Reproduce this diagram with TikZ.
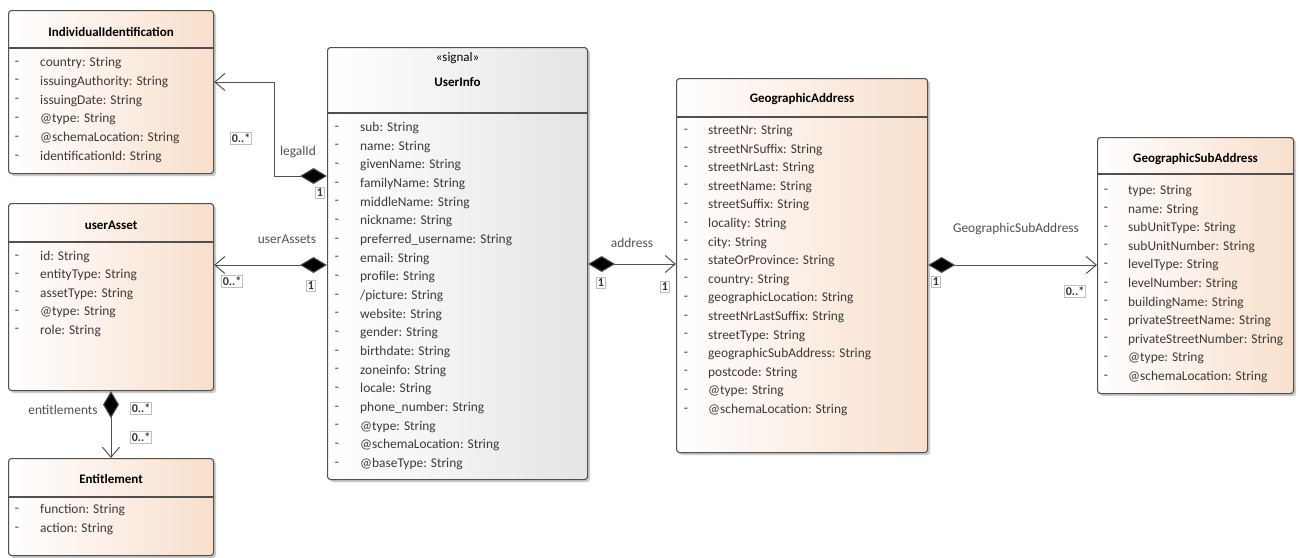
\documentclass[tikz,border=0pt]{standalone}
\usepackage{fontspec}
\setmainfont{Carlito}
\usetikzlibrary{arrows.meta,shadows}
\definecolor{peach}{HTML}{F8DFCC}
\definecolor{sig}{HTML}{E4E4E4}
\definecolor{boxline}{HTML}{505050}
\definecolor{attrc}{HTML}{3A3A3A}
\definecolor{labc}{HTML}{505050}
\tikzset{
  umlbox/.style={draw=boxline, line width=1.1pt, rounded corners=3pt,
    left color=white, right color=peach, anchor=north west, inner sep=0pt,
    drop shadow={shadow xshift=2.5pt, shadow yshift=-2.5pt, fill=black!35, opacity=.6}},
  sigbox/.style={umlbox, right color=sig},
  sepline/.style={draw=boxline, line width=1.1pt},
  ctitle/.style={font=\bfseries\fontsize{13}{15}\selectfont, text=black, inner sep=0pt},
  stereo/.style={font=\fontsize{13}{15}\selectfont, text=black, inner sep=0pt},
  attr/.style={font=\fontsize{13.4}{15}\selectfont, text=attrc, anchor=west, inner sep=0pt},
  dashc/.style={font=\fontsize{13.4}{15}\selectfont, text=attrc, inner sep=0pt},
  conn/.style={draw=boxline, line width=1pt},
  comp/.style={conn, {Diamond[length=27pt,width=16pt,fill=black]}-{Straight Barb[length=10pt,width=17pt,line width=1pt]}},
  rolelab/.style={font=\fontsize{13.4}{15}\selectfont, text=labc, inner sep=0pt},
  mult/.style={draw=black!25, fill=white, line width=0.6pt, inner sep=1.5pt, font=\bfseries\fontsize{12}{13}\selectfont, text=black!80},
}
\begin{document}
\begin{tikzpicture}[x=1pt,y=-1pt]
\useasboundingbox (0,0) rectangle (1301,557);

% IndividualIdentification
\node[umlbox, minimum width=205pt, minimum height=163pt] (ii) at (8,10) {};
\draw[sepline] (ii.west |- 0,48) -- (ii.east |- 0,48);
\node[ctitle] (iit) at (ii.center |- 0,32) {IndividualIdentification};
\foreach \t [count=\i from 0] in {country: String, issuingAuthority: String, issuingDate: String, @type: String, @schemaLocation: String, identificationId: String}{
  \node[dashc] (iid\i) at (17,{63+18.8*\i}) {-};
  \node[attr] (iia\i) at (40,{63+18.8*\i}) {\t};
}

% userAsset
\node[umlbox, minimum width=205pt, minimum height=187pt] (ua) at (8,203) {};
\draw[sepline] (ua.west |- 0,242) -- (ua.east |- 0,242);
\node[ctitle] (uat) at (ua.center |- 0,225) {userAsset};
\foreach \t [count=\i from 0] in {id: String, entityType: String, assetType: String, @type: String, role: String}{
  \node[dashc] (uad\i) at (17,{257+18.4*\i}) {-};
  \node[attr] (uaa\i) at (40,{257+18.4*\i}) {\t};
}

% Entitlement
\node[umlbox, minimum width=205pt, minimum height=97pt] (en) at (8,458) {};
\draw[sepline] (en.west |- 0,497) -- (en.east |- 0,497);
\node[ctitle] (ent) at (en.center |- 0,479) {Entitlement};
\foreach \t [count=\i from 0] in {function: String, action: String}{
  \node[dashc] (end\i) at (17,{510+19*\i}) {-};
  \node[attr] (ena\i) at (40,{510+19*\i}) {\t};
}

% UserInfo
\node[sigbox, minimum width=260pt, minimum height=432pt] (ui) at (327,47) {};
\draw[sepline] (ui.west |- 0,113) -- (ui.east |- 0,113);
\node[stereo] (uis) at (ui.center |- 0,58) {«signal»};
\node[ctitle] (uit) at (ui.center |- 0,82) {UserInfo};
\foreach \t [count=\i from 0] in {sub: String, name: String, givenName: String, familyName: String, middleName: String, nickname: String, preferred\_username: String, email: String, profile: String, /picture: String, website: String, gender: String, birthdate: String, zoneinfo: String, locale: String, phone\_number: String, @type: String, @schemaLocation: String, @baseType: String}{
  \node[dashc] (uid\i) at (337,{128+18.67*\i}) {-};
  \node[attr] (uia\i) at (360,{128+18.67*\i}) {\t};
}

% GeographicAddress
\node[umlbox, minimum width=251pt, minimum height=374pt] (ga) at (676,78) {};
\draw[sepline] (ga.west |- 0,117) -- (ga.east |- 0,117);
\node[ctitle] (gat) at (ga.center |- 0,99) {GeographicAddress};
\foreach \t [count=\i from 0] in {streetNr: String, streetNrSuffix: String, streetNrLast: String, streetName: String, streetSuffix: String, locality: String, city: String, stateOrProvince: String, country: String, geographicLocation: String, streetNrLastSuffix: String, streetType: String, geographicSubAddress: String, postcode: String, @type: String, @schemaLocation: String}{
  \node[dashc] (gad\i) at (686,{131+18.6*\i}) {-};
  \node[attr] (gaa\i) at (708,{131+18.6*\i}) {\t};
}

% GeographicSubAddress
\node[umlbox, minimum width=196pt, minimum height=256pt] (gs) at (1097,137) {};
\draw[sepline] (gs.west |- 0,174) -- (gs.east |- 0,174);
\node[ctitle] (gst) at (gs.center |- 0,159) {GeographicSubAddress};
\foreach \t [count=\i from 0] in {type: String, name: String, subUnitType: String, subUnitNumber: String, levelType: String, levelNumber: String, buildingName: String, privateStreetName: String, privateStreetNumber: String, @type: String, @schemaLocation: String}{
  \node[dashc] (gsd\i) at (1106,{191+18.6*\i}) {-};
  \node[attr] (gsa\i) at (1128,{191+18.6*\i}) {\t};
}

% connectors
\draw[comp] (ui.west |- 0,176) -- (274,176) |- (ii.east |- 0,82);
\node[rolelab] (l1) at (298,152) {legalId};
\node[mult] (m1a) at (241,138) {0..*};
\node[mult] (m1b) at (320,193) {1};

\draw[comp] (ui.west |- 0,265) -- (ua.east |- 0,265);
\node[rolelab] (l2) at (287,239) {userAssets};
\node[mult] (m2a) at (232,281) {0..*};
\node[mult] (m2b) at (311,286) {1};

\draw[comp] (ui.east |- 0,264) -- (ga.west |- 0,264);
\node[rolelab] (l3) at (632,243) {address};
\node[mult] (m3a) at (601,283) {1};
\node[mult] (m3b) at (665,287) {1};

\draw[comp] (ga.east |- 0,265) -- (gs.west |- 0,265);
\node[rolelab] (l4) at (1016,229) {GeographicSubAddress};
\node[mult] (m4a) at (936,282) {1};
\node[mult] (m4b) at (1075,291) {0..*};

\draw[comp] (ua.south -| 111,0) -- (en.north -| 111,0);
\node[rolelab] (l5) at (63,410) {entitlements};
\node[mult] (m5a) at (141,408) {0..*};
\node[mult] (m5b) at (141,437) {0..*};
\end{tikzpicture}
\end{document}
